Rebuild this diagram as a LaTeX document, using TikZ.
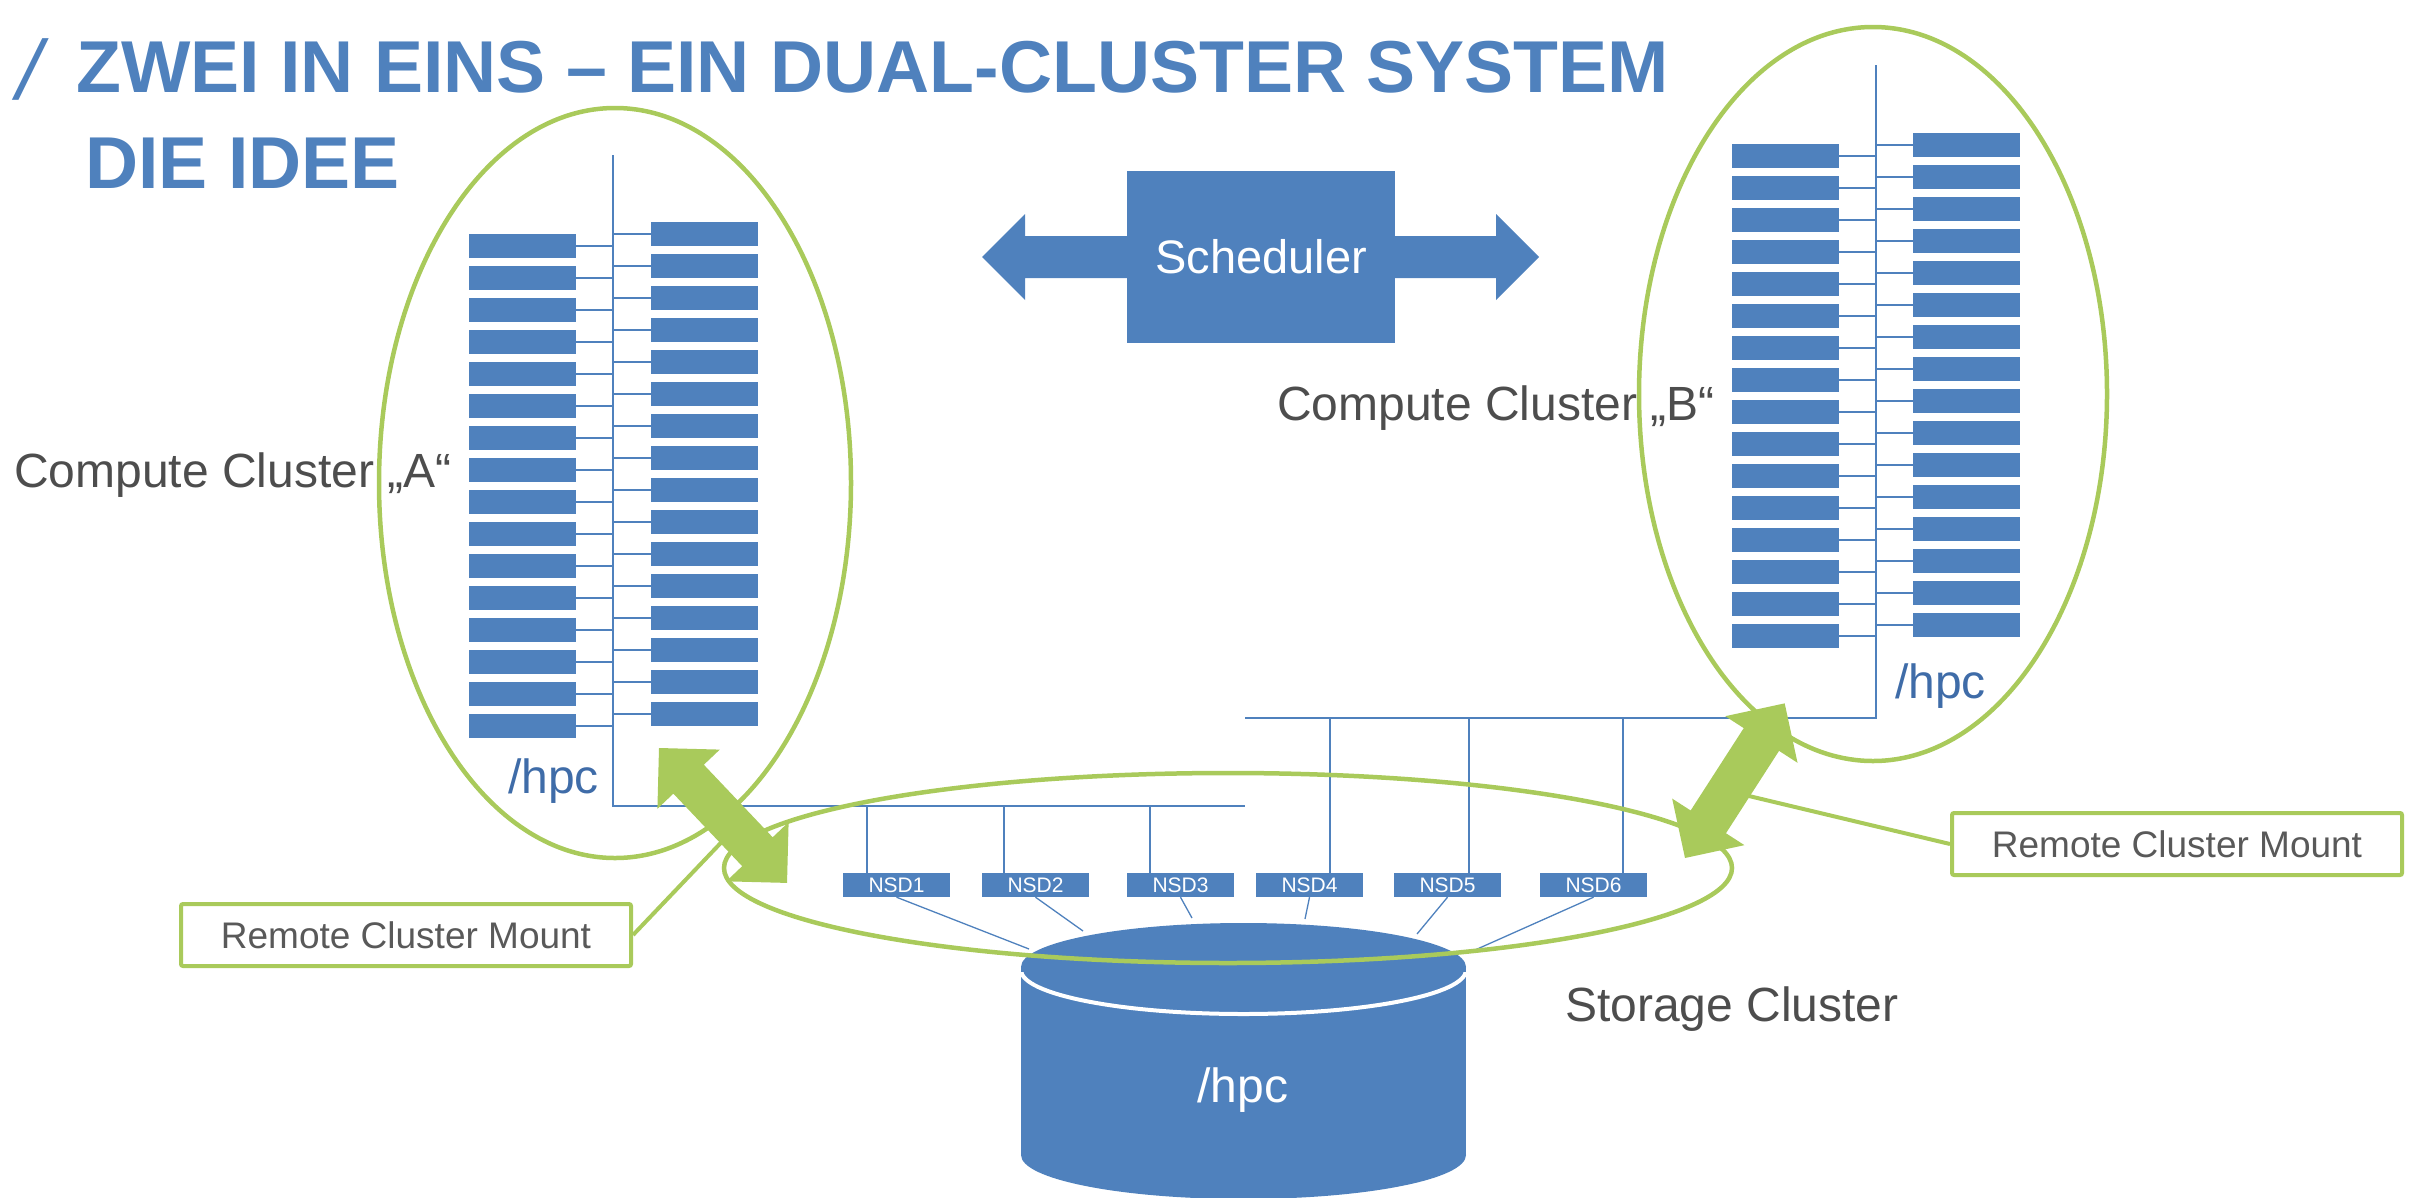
\documentclass[tikz,border=0pt]{standalone}
\usepackage{fontspec}
\setmainfont{Liberation Sans}
\newfontfamily\slashfont{Liberation Sans}[FakeSlant=0.22]
\usetikzlibrary{positioning,calc}
\definecolor{hpcblue}{HTML}{4F81BD}
\definecolor{hpcdark}{HTML}{3F6CA8}
\definecolor{mountgreen}{HTML}{A9CA5B}
\definecolor{labelgray}{HTML}{4D4D4D}
\definecolor{boxgray}{HTML}{595959}
\tikzstyle{server} = [fill=hpcblue, inner sep=0pt, minimum width=107pt, minimum height=24pt, anchor=north west]
\tikzstyle{nsd} = [fill=hpcblue, text=white, inner sep=0pt, minimum width=107pt, minimum height=24pt, font=\fontsize{21}{24}\selectfont]
\tikzstyle{bus} = [hpcblue, line width=1.6pt]
\tikzstyle{tap} = [hpcblue, line width=1.3pt]
\tikzstyle{ring} = [mountgreen, line width=4.5pt]
\tikzstyle{mount} = [draw=mountgreen, line width=4pt, fill=white, rounded corners=2pt, minimum width=450pt, minimum height=62pt, text=boxgray, font=\fontsize{37}{44}\selectfont]
\tikzstyle{cltext} = [inner sep=0pt, anchor=base west, text=labelgray, font=\fontsize{48}{56}\selectfont]
\tikzstyle{mnt} = [inner sep=0pt, anchor=base west, text=hpcdark, font=\fontsize{48}{56}\selectfont]
\tikzstyle{headline} = [inner sep=0pt, anchor=base west, text=hpcblue, font=\fontsize{73.5}{88}\selectfont\bfseries]
% fat double arrow: x, y, angle, length, colour
\newcommand{\fatarrow}[5]{%
  \fill[#5, shift={(#1,#2)}, rotate=#3] (0,0) -- (43,-43) -- (43,-21) -- (#4-43,-21) -- (#4-43,-43) -- (#4,0)
    -- (#4-43,43) -- (#4-43,21) -- (43,21) -- (43,43) -- cycle;}

\begin{document}
\begin{tikzpicture}[x=1pt,y=-1pt]
    \useasboundingbox (0,0) rectangle (2425,1197);

    % title
    \node[inner sep=0pt, anchor=base west, text=hpcblue, font=\fontsize{84}{90}\slashfont] (slash) at (12,99) {/};
    \node[headline] (title) at (76,92) {ZWEI IN EINS – EIN DUAL-CLUSTER SYSTEM};
    \node[headline] (subtitle) at (85,188) {DIE IDEE};

    % compute clusters
    \draw[ring] (615,483) ellipse [x radius=236, y radius=375];
    \draw[ring] (1873,394) ellipse [x radius=234, y radius=367];

    \coordinate (atop) at (613,155);
    \coordinate (acorner) at (613,806);
    \coordinate (ajoin) at (1245,806);
    \coordinate (btop) at (1876,65);
    \coordinate (bcorner) at (1876,718);
    \coordinate (bjoin) at (1245,718);
    \draw[bus] (atop) -- (acorner) -- (ajoin);
    \draw[bus] (btop) -- (bcorner) -- (bjoin);

    \foreach \i in {0,...,15}{
        \node[server] (al\i) at (469,234+32*\i) {};
        \node[server] (ar\i) at (651,222+32*\i) {};
        \draw[bus] (al\i.east) -- (al\i.east -| atop);
        \draw[bus] (ar\i.west) -- (ar\i.west -| atop);
        \node[server] (bl\i) at (1732,144+32*\i) {};
        \node[server] (br\i) at (1913,133+32*\i) {};
        \draw[bus] (bl\i.east) -- (bl\i.east -| btop);
        \draw[bus] (br\i.west) -- (br\i.west -| btop);
    }

    % storage cluster
    \foreach \n/\cx/\dx/\feed/\ex/\ey in {1/896.5/867/ajoin/1029/949, 2/1035.5/1004/ajoin/1083/931,
            3/1180.5/1150/ajoin/1192/918, 4/1309.5/1330/bjoin/1305/919,
            5/1447.5/1469/bjoin/1417/934, 6/1593.5/1623/bjoin/1475/950}{
        \node[nsd] (nsd\n) at (\cx,885) {NSD\n};
        \coordinate (drop\n) at (\dx,885);
        \coordinate (tap\n) at (\ex,\ey);
        \draw[bus] (drop\n |- nsd\n.north) -- (drop\n |- \feed);
        \draw[tap] (nsd\n.south) -- (tap\n);
    }

    \fill[hpcblue] (1021,967) rectangle (1466,1155);
    \fill[hpcblue] (1243.5,1155) ellipse [x radius=222.5, y radius=44];
    \fill[hpcblue] (1243.5,967) ellipse [x radius=222.5, y radius=44];
    \begin{scope}
        \clip (1021,972) rectangle (1466,1030);
        \draw[white, line width=4pt] (1243.5,970) ellipse [x radius=222.5, y radius=44];
    \end{scope}
    \node[inner sep=0pt, anchor=base, text=white, font=\fontsize{48}{56}\selectfont] (disk) at (1243,1102) {/hpc};

    \draw[ring] (1228,868) ellipse [x radius=504, y radius=95];

    % remote cluster mounts
    \coordinate (armA) at (735,828);
    \coordinate (armB) at (1728,791);
    \node[mount] (mountA) at (406,935) {Remote Cluster Mount};
    \node[mount] (mountB) at (2177,844) {Remote Cluster Mount};
    \draw[ring, line width=4pt] (mountA.east) -- (armA);
    \draw[ring, line width=4pt] (mountB.west) -- (armB);
    \fatarrow{659}{748}{-46.5}{186}{mountgreen}
    \fatarrow{1685}{858}{57.2}{184}{mountgreen}

    % scheduler
    \fatarrow{982}{257}{0}{557}{hpcblue}
    \node[fill=hpcblue, inner sep=0pt, minimum width=268pt, minimum height=172pt, text=white,
          font=\fontsize{47}{56}\selectfont] (sched) at (1261,257) {Scheduler};

    % labels
    \node[cltext] (clA) at (14,487) {Compute Cluster „A“};
    \node[cltext] (clB) at (1277,420) {Compute Cluster „B“};
    \node[cltext] (stor) at (1565,1021) {Storage Cluster};
    \node[mnt] (hpcA) at (508,793) {/hpc};
    \node[mnt] (hpcB) at (1895,698) {/hpc};
\end{tikzpicture}
\end{document}
